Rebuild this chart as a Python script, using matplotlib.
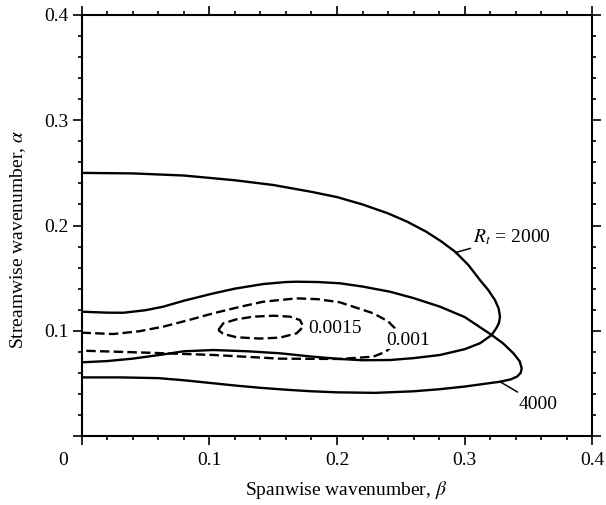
import matplotlib
matplotlib.use("Agg")
import matplotlib.pyplot as plt
from matplotlib.ticker import MultipleLocator, FuncFormatter

plt.rcParams['font.family'] = ['Liberation Serif', 'DejaVu Serif']
plt.rcParams['mathtext.fontset'] = 'stix'

# Neutral curve R_t = 2000 (beta, alpha), traced from beta=0 round the tip and back
beta_2000 = [0.0, 0.04, 0.08, 0.12, 0.15, 0.18, 0.20, 0.22, 0.24, 0.255, 0.27,
             0.2815, 0.2925, 0.3028, 0.3119, 0.3184, 0.3237, 0.3265, 0.3276, 0.3268,
             0.325, 0.3211, 0.3119, 0.300, 0.2806, 0.26, 0.2415, 0.22, 0.2023, 0.18,
             0.1554, 0.13, 0.1032, 0.08, 0.064, 0.04, 0.02, 0.0]
alpha_2000 = [0.250, 0.2495, 0.2475, 0.2430, 0.2385, 0.2320, 0.2270, 0.2200, 0.2115,
              0.2036, 0.1940, 0.1850, 0.1751, 0.1625, 0.1482, 0.1387, 0.1291, 0.1213,
              0.1134, 0.1075, 0.1030, 0.0960, 0.0881, 0.0825, 0.0770, 0.0740, 0.0722,
              0.0720, 0.0732, 0.0755, 0.0786, 0.0805, 0.0817, 0.0805, 0.0775, 0.0735,
              0.0712, 0.0700]

# Neutral curve R_t = 4000
beta_4000 = [0.0, 0.02, 0.0328, 0.05, 0.064, 0.08, 0.1032, 0.12, 0.1423, 0.16,
             0.1684, 0.185, 0.2023, 0.22, 0.2415, 0.26, 0.2806, 0.30, 0.3211, 0.33,
             0.3381, 0.3430, 0.3446, 0.3438, 0.3410, 0.3360, 0.3276, 0.30, 0.2806,
             0.26, 0.23, 0.20, 0.18, 0.16, 0.14, 0.12, 0.10, 0.08, 0.06, 0.03, 0.0]
alpha_4000 = [0.1181, 0.1172, 0.1171, 0.1195, 0.1229, 0.1285, 0.1355, 0.1400, 0.1444,
              0.1463, 0.1466, 0.1463, 0.1451, 0.1420, 0.1371, 0.1310, 0.1229, 0.1130,
              0.0960, 0.0880, 0.0786, 0.0710, 0.0643, 0.0600, 0.0565, 0.0538, 0.0516,
              0.0470, 0.0445, 0.0425, 0.0410, 0.0415, 0.0425, 0.0440, 0.0458, 0.0480,
              0.0505, 0.0530, 0.0550, 0.0557, 0.0557]

# Growth-rate contour 0.001 (open at beta=0)
beta_001 = [0.0, 0.0249, 0.045, 0.064, 0.085, 0.1032, 0.125, 0.1423, 0.1684, 0.185,
            0.2023, 0.2284, 0.240, 0.2454, 0.247, 0.245, 0.238, 0.2284, 0.2023,
            0.1554, 0.1032, 0.051, 0.0]
alpha_001 = [0.0982, 0.0969, 0.0995, 0.1039, 0.1105, 0.1166, 0.1230, 0.1276, 0.1308,
             0.1300, 0.1270, 0.1166, 0.1090, 0.1023, 0.0950, 0.0870, 0.0800, 0.0754,
             0.0732, 0.0735, 0.0770, 0.0792, 0.0811]

# Growth-rate contour 0.0015 (closed)
beta_0015 = [0.1071, 0.1110, 0.1215, 0.1345, 0.1502, 0.1632, 0.1710, 0.1736, 0.1684,
             0.1554, 0.1397, 0.1215, 0.1110, 0.1071]
alpha_0015 = [0.1007, 0.1071, 0.1109, 0.1134, 0.1143, 0.1134, 0.1102, 0.1039, 0.0976,
              0.0935, 0.0926, 0.0938, 0.0970, 0.1007]

fs = 14

fig = plt.figure(figsize=(6.06, 5.05), dpi=100)
ax = fig.add_axes([0.1345, 0.1366, 0.8432, 0.8337])

lw = 1.7
ax.plot(beta_2000, alpha_2000, color='black', lw=lw, solid_joinstyle='round')
ax.plot(beta_4000, alpha_4000, color='black', lw=lw, solid_joinstyle='round')
l1, = ax.plot(beta_001, alpha_001, color='black', lw=lw)
l2, = ax.plot(beta_0015, alpha_0015, color='black', lw=lw)
for ln in (l1, l2):
    ln.set_dashes((4, 1.8))

# contour labels
ax.text(0.1776, 0.1025, '0.0015', fontsize=fs, va='center', ha='left')
ax.text(0.2389, 0.0905, '0.001', fontsize=fs, va='center', ha='left',
        bbox=dict(fc='white', ec='none', pad=0.1))

# curve labels with leader lines
ax.annotate(r'$R_t$ = 2000', xy=(0.2925, 0.1742), xytext=(0.3067, 0.1894),
            fontsize=fs, va='center', ha='left',
            arrowprops=dict(arrowstyle='-', lw=1.1, color='black', shrinkA=0, shrinkB=0))
ax.annotate('4000', xy=(0.3276, 0.0516), xytext=(0.342, 0.0304),
            fontsize=fs, va='center', ha='left',
            arrowprops=dict(arrowstyle='-', lw=1.1, color='black', shrinkA=1, shrinkB=0))

ax.set_xlim(0, 0.4)
ax.set_ylim(0, 0.4)
for axis in (ax.xaxis, ax.yaxis):
    axis.set_major_locator(MultipleLocator(0.1))
    axis.set_minor_locator(MultipleLocator(0.02))
    axis.set_major_formatter(FuncFormatter(lambda v, p: '' if abs(v) < 1e-9 else f'{v:.1f}'))

ax.tick_params(which='both', direction='out', top=True, right=True,
               labeltop=False, labelright=False, width=1.2, labelsize=fs)
ax.tick_params(which='major', length=6.5)
ax.tick_params(which='minor', length=3.2)
ax.tick_params(axis='x', which='major', pad=5)
ax.tick_params(axis='y', which='major', pad=3)
for sp in ax.spines.values():
    sp.set_linewidth(1.5)

# shared origin label at the corner
ax.annotate('0', xy=(0, 0), xytext=(-13.3, -17.3), textcoords='offset points',
            fontsize=fs, ha='center', va='center')

ax.set_xlabel(r'Spanwise wavenumber, $\beta$', fontsize=fs)
ax.set_ylabel(r'Streamwise wavenumber, $\alpha$', fontsize=fs)
ax.xaxis.set_label_coords(0.5176, -0.102)
ax.yaxis.set_label_coords(-0.105, 0.466)

fig.savefig('out.png', dpi=100)
